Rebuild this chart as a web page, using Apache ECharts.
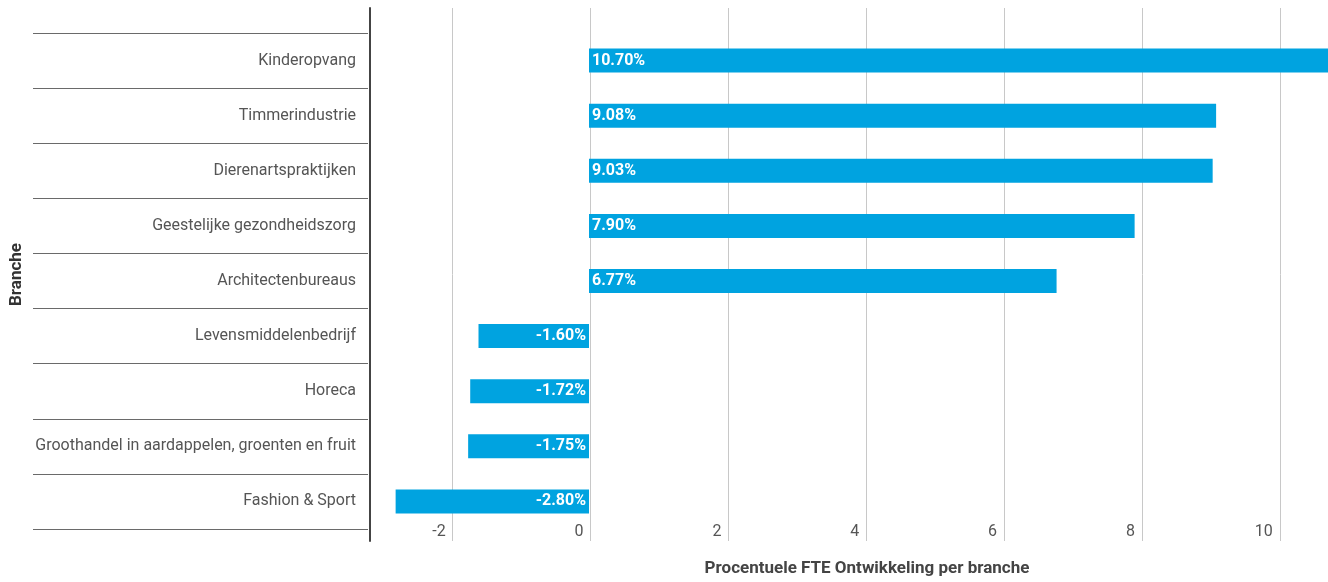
<!DOCTYPE html>
<html>
<head>
<meta charset="utf-8">
<script src="https://cdn.jsdelivr.net/npm/echarts@6/dist/echarts.min.js"></script>
<style>
  html, body { margin: 0; padding: 0; background: #fff; }
  #chart { width: 1328px; height: 582px; }
</style>
</head>
<body>
<div id="chart"></div>
<script>
var branches = [
    'Kinderopvang',
    'Timmerindustrie',
    'Dierenartspraktijken',
    'Geestelijke gezondheidszorg',
    'Architectenbureaus',
    'Levensmiddelenbedrijf',
    'Horeca',
    'Groothandel in aardappelen, groenten en fruit',
    'Fashion & Sport'
];
var growth = [10.70, 9.08, 9.03, 7.90, 6.77, -1.60, -1.72, -1.75, -2.80];

var xMin = -3.2;
var xMax = 10.7;

var myChart = echarts.init(document.getElementById('chart'));

var barData = [];
for (var i = 0; i < growth.length; i++) {
    barData.push({
        value: growth[i],
        label: { position: growth[i] < 0 ? 'insideRight' : 'insideLeft' }
    });
}

var option = {
    textStyle: { fontFamily: 'Roboto' },
    grid: [
        { left: 368, right: 0, top: 8, bottom: 29 },
        { left: 368, right: 0, top: 33, bottom: 53 }
    ],
    xAxis: [{
        gridIndex: 0,
        type: 'value',
        min: xMin,
        max: xMax,
        splitNumber: 7,
        axisLine: { show: false },
        axisTick: { show: false },
        splitLine: { show: true, lineStyle: { color: '#c8c8c8', width: 1 } },
        axisLabel: {
            inside: true,
            margin: 1,
            align: 'right',
            verticalAlign: 'bottom',
            padding: [0, 7, 0, 0],
            showMinLabel: false,
            showMaxLabel: false,
            color: '#555',
            fontSize: 16
        },
        name: 'Procentuele FTE Ontwikkeling per branche',
        nameLocation: 'middle',
        nameGap: 19,
        nameTextStyle: {
            color: '#444',
            fontSize: 17,
            fontWeight: 'bold',
            padding: [0, 0, 0, 36]
        }
    }, {
        gridIndex: 1,
        type: 'value',
        min: xMin,
        max: xMax,
        show: false
    }],
    yAxis: [{
        gridIndex: 0,
        type: 'value',
        axisLine: { show: true, onZero: false, lineStyle: { color: '#444', width: 2 } },
        axisTick: { show: false },
        axisLabel: { show: false },
        splitLine: { show: false },
        name: 'Branche',
        nameLocation: 'middle',
        nameGap: 345,
        nameTextStyle: {
            color: '#333',
            fontSize: 17,
            fontWeight: 'bold'
        }
    }, {
        gridIndex: 1,
        type: 'category',
        inverse: true,
        data: branches,
        axisLine: { show: false, onZero: false },
        axisTick: {
            show: true,
            length: 335,
            lineStyle: { color: '#6a6a6a', width: 1 }
        },
        axisLabel: {
            margin: 12,
            color: '#555',
            fontSize: 16
        },
        splitLine: { show: false }
    }],
    series: [{
        name: 'FTE Ontwikkeling',
        type: 'bar',
        xAxisIndex: 1,
        yAxisIndex: 1,
        barWidth: 24,
        data: barData,
        itemStyle: { color: '#00a3e0' },
        label: {
            show: true,
            distance: 3,
            color: '#fff',
            fontSize: 16,
            fontWeight: 'bold',
            formatter: function (p) {
                return p.value.toFixed(2) + '%';
            }
        }
    }]
};

myChart.setOption(option);
</script>
</body>
</html>
